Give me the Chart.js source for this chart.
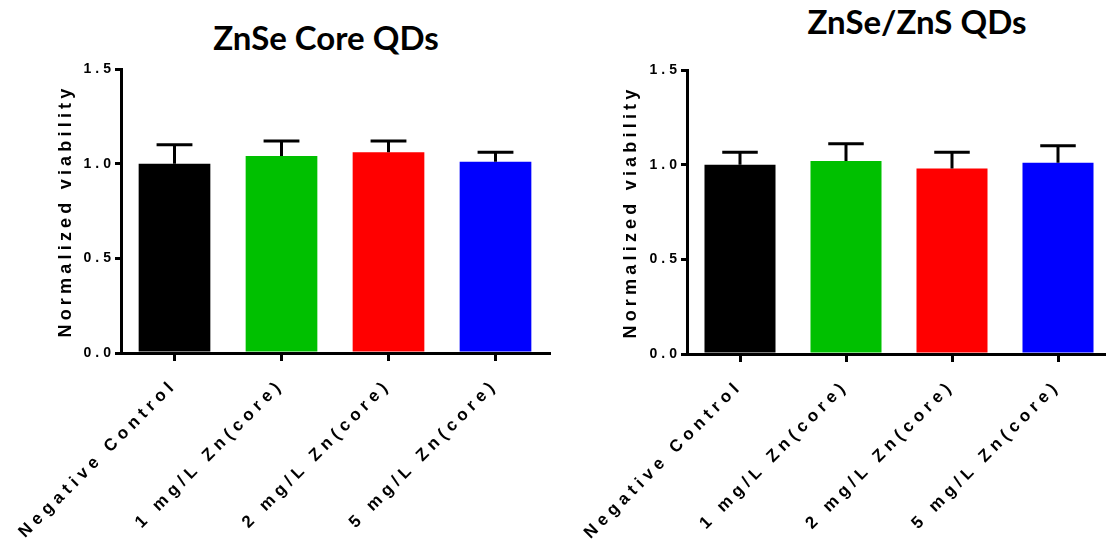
<!DOCTYPE html>
<html>
<head>
<meta charset="utf-8">
<script src="https://cdn.jsdelivr.net/npm/chart.js@4.4.1/dist/chart.umd.min.js"></script>
<style>
  body {
    margin: 0;
    width: 1106px;
    height: 544px;
    overflow: hidden;
    position: relative;
    background: #fff;
  }
  .panel {
    position: absolute;
    top: 0;
    width: 560px;
    height: 544px;
  }
  .title {
    position: absolute;
    width: 400px;
    margin: 0;
    text-align: center;
    font: 700 33px/1.2 "Lato", sans-serif;
    color: #000;
    white-space: nowrap;
  }
</style>
</head>
<body>
<h1 class="title" style="left:126px; top:18px;">ZnSe Core QDs</h1>
<h1 class="title" style="left:717px; top:2px;">ZnSe/ZnS QDs</h1>
<div class="panel" style="left:0;"><canvas id="core-chart" width="560" height="544"></canvas></div>
<div class="panel" style="left:560px;"><canvas id="shell-chart" width="560" height="544"></canvas></div>

<script>
const categories = [
  "Negative Control",
  "1 mg/L Zn(core)",
  "2 mg/L Zn(core)",
  "5 mg/L Zn(core)",
];
const barColours = ["#000000", "#00c000", "#ff0000", "#0000ff"];

// ZnSe core QDs
const coreMeans = [1.0, 1.04, 1.06, 1.01];
const coreErrors = [0.1, 0.08, 0.06, 0.05];

// ZnSe/ZnS QDs
const shellMeans = [1.0, 1.02, 0.98, 1.01];
const shellErrors = [0.065, 0.09, 0.085, 0.09];

const yTicks = [0, 0.5, 1.0, 1.5];

const AXIS_FONT = "Liberation Sans";

// upper error whisker with a cap, half the bar wide
const errorBarPlugin = {
  id: "errorBars",
  afterDatasetsDraw(chart) {
    const ctx = chart.ctx;
    const yScale = chart.scales.y;
    chart.data.datasets.forEach((dataset, i) => {
      const meta = chart.getDatasetMeta(i);
      meta.data.forEach((bar, idx) => {
        const top = yScale.getPixelForValue(dataset.data[idx] + dataset.errors[idx]);
        const half = bar.width / 4;
        ctx.save();
        ctx.strokeStyle = "#000";
        ctx.lineWidth = 3;
        ctx.beginPath();
        ctx.moveTo(bar.x, bar.y);
        ctx.lineTo(bar.x, top);
        ctx.moveTo(bar.x - half, top);
        ctx.lineTo(bar.x + half, top);
        ctx.stroke();
        ctx.restore();
      });
    });
  },
};

// the axis text in the figure is widely letter-spaced
const letterSpacingPlugin = {
  id: "letterSpacing",
  beforeDraw(chart) {
    Object.values(chart.scales).forEach((scale) => {
      if (scale._spaced) return;
      scale._spaced = true;
      const drawLabels = scale.drawLabels.bind(scale);
      const drawTitle = scale.drawTitle.bind(scale);
      scale.drawLabels = (area) => {
        chart.ctx.letterSpacing = scale.axis === "x" ? "5px" : "4px";
        drawLabels(area);
        chart.ctx.letterSpacing = "0px";
      };
      scale.drawTitle = (area) => {
        chart.ctx.letterSpacing = "4.2px";
        drawTitle(area);
        chart.ctx.letterSpacing = "0px";
      };
    });
  },
};

function makeChart(canvasId, means, errors, box) {
  const config = {
    type: "bar",
    data: {
      labels: categories,
      datasets: [
        {
          data: means,
          errors: errors,
          backgroundColor: barColours,
          borderWidth: 0,
          barPercentage: 0.67,
          categoryPercentage: 1.0,
        },
      ],
    },
    options: {
      responsive: false,
      animation: false,
      layout: {
        padding: { top: box.top, right: box.right, left: 0, bottom: 0 },
      },
      plugins: {
        legend: { display: false },
        tooltip: { enabled: false },
        title: { display: false },
      },
      scales: {
        x: {
          offset: true,
          border: { display: true, color: "#000", width: 3 },
          grid: {
            offset: false,
            drawOnChartArea: false,
            drawTicks: true,
            tickLength: 8,
            lineWidth: 3,
            color: "#000",
          },
          ticks: {
            autoSkip: false,
            minRotation: 45,
            maxRotation: 45,
            padding: 14,
            color: "#000",
            font: { family: AXIS_FONT, size: 17, weight: "bold" },
          },
          afterFit(scale) {
            scale.height = box.bottom;
            scale.paddingLeft = 0;
            scale.paddingRight = 0;
          },
        },
        y: {
          min: 0,
          max: 1.5,
          border: { display: true, color: "#000", width: 3 },
          grid: {
            drawOnChartArea: false,
            drawTicks: true,
            tickLength: 6,
            lineWidth: 3,
            color: "#000",
          },
          afterBuildTicks(scale) {
            scale.ticks = yTicks.map((value) => ({ value }));
          },
          ticks: {
            padding: 0,
            color: "#000",
            font: { family: AXIS_FONT, size: 14, weight: "bold" },
            callback: (value) => Number(value).toFixed(1),
          },
          title: {
            display: true,
            text: "Normalized viability",
            color: "#000",
            padding: { top: box.titleOffset, bottom: 0 },
            font: { family: AXIS_FONT, size: 18, weight: "bold" },
          },
          afterFit(scale) {
            scale.width = box.left;
            scale.paddingTop = 0;
            scale.paddingBottom = 0;
          },
        },
      },
    },
    plugins: [errorBarPlugin, letterSpacingPlugin],
  };

  return new Chart(document.getElementById(canvasId), config);
}

makeChart("core-chart", coreMeans, coreErrors, {
  left: 121,
  right: 11,
  top: 69,
  bottom: 191,
  titleOffset: 55,
});

makeChart("shell-chart", shellMeans, shellErrors, {
  left: 127,
  right: 9,
  top: 70,
  bottom: 190,
  titleOffset: 60,
});
</script>
</body>
</html>
